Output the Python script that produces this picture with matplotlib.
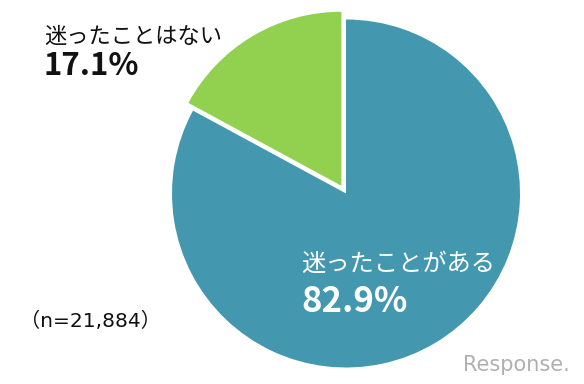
import matplotlib
matplotlib.use("Agg")
import matplotlib.pyplot as plt

labels = ["迷ったことはない", "迷ったことがある"]
values = [17.1, 82.9]
pct_labels = ["17.1%", "82.9%"]
colors = ["#92D050", "#4398B0"]
note = "（n=21,884）"

plt.rcParams['font.family'] = ['Noto Sans CJK JP', 'DejaVu Sans']
latin = ['DejaVu Sans', 'Noto Sans CJK JP']

fig = plt.figure(figsize=(5.84, 3.84), dpi=100)
ax = fig.add_axes([0, 0, 1, 1])

ax.pie(values, colors=colors, startangle=90, counterclock=True,
       center=(346, 190.5), radius=174, explode=[9, 0],
       wedgeprops=dict(edgecolor='white', linewidth=0), frame=True)
ax.set_xlim(0, 584)
ax.set_ylim(0, 384)
ax.set_aspect('equal')
ax.axis('off')

ax.text(44, 348, labels[0], fontsize=16, color='#111111', va='center', ha='left')
ax.text(43, 318, pct_labels[0], fontsize=22.5, fontweight='bold', color='#111111',
        va='center', ha='left')
ax.text(301, 120, labels[1], fontsize=17.5, color='white', va='center', ha='left')
ax.text(301, 82, pct_labels[1], fontsize=25, fontweight='bold', color='white',
        va='center', ha='left')
ax.text(20, 63, note, fontsize=14.5, color='#111111', va='center', ha='left', family=latin)
ax.text(516, 19, "Response.", fontsize=15, color='#b0b0b0', va='center', ha='center',
        family=['DejaVu Sans'])

fig.savefig("out.png", dpi=100)
